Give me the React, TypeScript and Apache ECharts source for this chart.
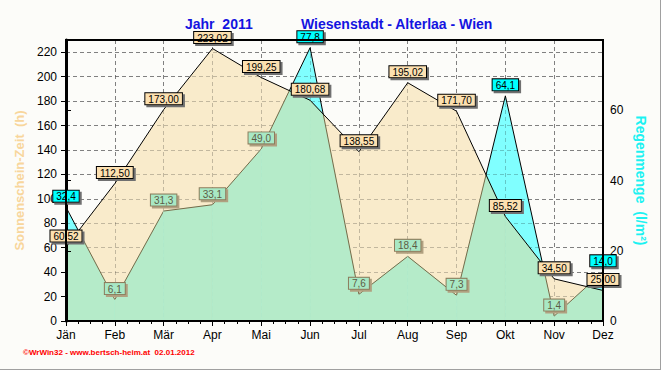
import React, { useEffect, useRef } from "react";
import * as echarts from "echarts";

const months = ["Jän", "Feb", "Mär", "Apr", "Mai", "Jun", "Jul", "Aug", "Sep", "Okt", "Nov", "Dez"];
const sunHours = [60.52, 112.5, 173.0, 223.02, 199.25, 180.68, 138.55, 195.02, 171.7, 85.52, 34.5, 25.0];
const rainMm = [32.4, 6.1, 31.3, 33.1, 49.0, 77.8, 7.6, 18.4, 7.3, 64.1, 1.4, 14.0];
const sunAxisMax = 230;
const rainAxisMax = 80;
const sunTickStep = 20;
const rainTickStep = 20;

const BEIGE = "#F9EBCB";
const CYAN = "#80FFFF";
const GREEN = "#B5EBC9";
const OLIVE = "#7A6A48";
const FONT = "Arial, 'Liberation Sans', sans-serif";

export default function App() {
  const ref = useRef<HTMLDivElement>(null);

  useEffect(() => {
    document.body.style.margin = "0";
    if (!ref.current) return;
    const chart = echarts.init(ref.current, undefined, { renderer: "svg" });
    const K = sunAxisMax / rainAxisMax;

    const sunPts = sunHours.map((v, i) => [i, v]);
    const rainPts = rainMm.map((v, i) => [i, v]);
    const segs = months.slice(0, months.length - 1).map((_, i) => [i, sunHours[i], rainMm[i], sunHours[i + 1], rainMm[i + 1]]);

    const fmt = (v: number, d: number) => v.toFixed(d).replace(".", ",");

    const sunLabel = {
      show: true,
      position: "top",
      distance: 5,
      formatter: (p: any) => fmt(p.value[1], 2),
      fontFamily: FONT,
      fontSize: 10,
      lineHeight: 10,
      color: "#000",
      backgroundColor: "#FCE0B0",
      borderColor: "#000",
      borderWidth: 1,
      padding: [1, 3, 0, 3],
      shadowColor: "#707070",
      shadowOffsetX: 2,
      shadowOffsetY: 2,
      shadowBlur: 0,
    };

    const rainData = rainPts.map((p, i) => {
      const above = rainMm[i] * K > sunHours[i];
      return {
        value: p,
        label: above
          ? { backgroundColor: "#00FFFF", borderColor: "#000", color: "#000", shadowColor: "#707070" }
          : { backgroundColor: "#A8E8C4", borderColor: "#8C7C5C", color: "#5C5C44", shadowColor: "#B0A080" },
      };
    });

    const hiddenY = (z: number, color: string) => ({
      type: "value",
      position: "left",
      min: 0,
      max: sunAxisMax,
      interval: sunTickStep,
      z,
      axisLine: { show: false },
      axisTick: { show: false },
      axisLabel: { show: false },
      splitLine: { show: true, lineStyle: { color, type: [4, 3], width: 1 } },
    });
    const hiddenX = (z: number, color: string) => ({
      type: "value",
      position: "bottom",
      min: 0,
      max: months.length - 1,
      interval: 1,
      z,
      axisLine: { show: false },
      axisTick: { show: false },
      axisLabel: { show: false },
      splitLine: { show: true, lineStyle: { color, type: [4, 3], width: 1 } },
    });

    chart.setOption({
      animation: false,
      backgroundColor: "#FCFCF9",
      title: [
        { text: "Jahr  2011", left: 180, top: 12, textStyle: { color: "#1414E0", fontSize: 14, fontWeight: "bold", fontFamily: FONT } },
        { text: "Wiesenstadt - Alterlaa - Wien", left: 296, top: 12, textStyle: { color: "#1414E0", fontSize: 14, fontWeight: "bold", fontFamily: FONT } },
      ],
      grid: { left: 66, right: 58, top: 40, bottom: 49, show: true, borderColor: "#000", borderWidth: 2, backgroundColor: "transparent", z: 10 },
      xAxis: [
        {
          type: "value",
          min: 0,
          max: months.length - 1,
          interval: 1,
          z: 5,
          axisLine: { show: true, lineStyle: { color: "#000", width: 2 } },
          axisTick: { show: true, length: 5, lineStyle: { color: "#000" } },
          minorTick: { show: true, splitNumber: 4, length: 3, lineStyle: { color: "#000" } },
          axisLabel: { formatter: (v: number) => months[v] ?? "", color: "#000", fontSize: 12, fontFamily: FONT, margin: 8 },
          splitLine: { show: false },
        },
        hiddenX(0, "#A4A4A4"),
        hiddenX(3, "rgba(0,0,0,0.22)"),
      ],
      yAxis: [
        {
          type: "value",
          position: "left",
          min: 0,
          max: sunAxisMax,
          interval: sunTickStep,
          z: 5,
          name: "Sonnenschein-Zeit  (h)",
          nameLocation: "middle",
          nameGap: 30,
          nameRotate: 90,
          nameTextStyle: { color: "#F8D69C", fontSize: 13, fontWeight: "bold", fontFamily: FONT },
          axisLine: { show: true, lineStyle: { color: "#000", width: 3 } },
          axisTick: { show: true, length: 5, lineStyle: { color: "#000" } },
          axisLabel: { color: "#000", fontSize: 12, fontFamily: FONT, margin: 9, showMaxLabel: false },
          splitLine: { show: false },
        },
        {
          type: "value",
          position: "right",
          min: 0,
          max: rainAxisMax,
          interval: rainTickStep,
          z: 5,
          name: "Regenmenge  (l/m²)",
          nameLocation: "middle",
          nameGap: 22,
          nameRotate: -90,
          nameTextStyle: { color: "#1CF2F2", fontSize: 14, fontWeight: "bold", fontFamily: FONT },
          axisLine: { show: true, lineStyle: { color: "#000", width: 2 } },
          axisTick: { show: true, length: 5, lineStyle: { color: "#000" } },
          axisLabel: { color: "#000", fontSize: 12, fontFamily: FONT, margin: 7, showMaxLabel: false },
          splitLine: { show: false },
        },
        hiddenY(0, "#A4A4A4"),
        hiddenY(3, "rgba(0,0,0,0.22)"),
      ],
      series: [
        {
          name: "Sonne Fläche",
          type: "line",
          xAxisIndex: 0,
          yAxisIndex: 0,
          data: sunPts,
          symbol: "none",
          lineStyle: { width: 0 },
          areaStyle: { color: BEIGE, opacity: 1 },
          z: 1,
        },
        {
          name: "Regen Fläche",
          type: "line",
          xAxisIndex: 0,
          yAxisIndex: 1,
          data: rainPts,
          symbol: "none",
          lineStyle: { width: 0 },
          areaStyle: { color: CYAN, opacity: 1 },
          z: 1,
        },
        {
          name: "Überlappung",
          type: "custom",
          xAxisIndex: 0,
          yAxisIndex: 0,
          data: segs,
          z: 4,
          renderItem: (params: any, api: any) => {
            const i = api.value(0);
            const sa = api.value(1), ra = api.value(2) * K, sb = api.value(3), rb = api.value(4) * K;
            const pA0 = api.coord([i, 0]);
            const pB0 = api.coord([i + 1, 0]);
            const xA = pA0[0], xB = pB0[0], y0 = pA0[1];
            const ysA = api.coord([i, sa])[1];
            const yrA = api.coord([i, ra])[1];
            const ysB = api.coord([i + 1, sb])[1];
            const yrB = api.coord([i + 1, rb])[1];
            const dA = yrA - ysA;
            const dB = yrB - ysB;
            const pts: number[][] = [[xA, Math.max(ysA, yrA)]];
            let cross: number[] | null = null;
            if (dA * dB < 0) {
              const t = dA / (dA - dB);
              cross = [xA + t * (xB - xA), yrA + t * (yrB - yrA)];
              pts.push(cross);
            }
            pts.push([xB, Math.max(ysB, yrB)], [xB, y0], [xA, y0]);
            const col = (d: number) => (d > 0 ? OLIVE : "#000");
            const lines: any[] = [];
            if (cross) {
              lines.push({ type: "polyline", shape: { points: [[xA, yrA], cross] }, style: { stroke: col(dA), lineWidth: 1, fill: null } });
              lines.push({ type: "polyline", shape: { points: [cross, [xB, yrB]] }, style: { stroke: col(dB), lineWidth: 1, fill: null } });
            } else {
              const d = dA !== 0 ? dA : dB;
              lines.push({ type: "polyline", shape: { points: [[xA, yrA], [xB, yrB]] }, style: { stroke: col(d), lineWidth: 1, fill: null } });
            }
            return {
              type: "group",
              children: [
                { type: "polygon", shape: { points: pts }, style: { fill: GREEN, stroke: GREEN, lineWidth: 0.6 } },
                ...lines,
              ],
            };
          },
        },
        {
          name: "Sonnenschein",
          type: "line",
          xAxisIndex: 0,
          yAxisIndex: 0,
          data: sunPts,
          symbol: "circle",
          symbolSize: 1,
          itemStyle: { color: "rgba(0,0,0,0)" },
          lineStyle: { color: "#000", width: 1 },
          label: sunLabel,
          z: 6,
        },
        {
          name: "Regenmenge",
          type: "line",
          xAxisIndex: 0,
          yAxisIndex: 1,
          data: rainData,
          symbol: "circle",
          symbolSize: 1,
          itemStyle: { color: "rgba(0,0,0,0)" },
          lineStyle: { width: 0, opacity: 0 },
          label: { ...sunLabel, formatter: (p: any) => fmt(p.value[1], 1) },
          z: 7,
        },
      ],
      graphic: [
        { type: "text", left: 23, top: 348, style: { text: "©WrWin32 - www.bertsch-heim.at  02.01.2012", fill: "#FF0000", font: "bold 8px Arial, sans-serif" } },
        { type: "line", shape: { x1: 660.5, y1: 0, x2: 660.5, y2: 370 }, style: { stroke: "#A0A0A0", lineWidth: 1 } },
        { type: "line", shape: { x1: 0, y1: 369.5, x2: 661, y2: 369.5 }, style: { stroke: "#A0A0A0", lineWidth: 1 } },
      ],
    });
    return () => chart.dispose();
  }, []);

  return <div ref={ref} style={{ width: 661, height: 370 }} />;
}
